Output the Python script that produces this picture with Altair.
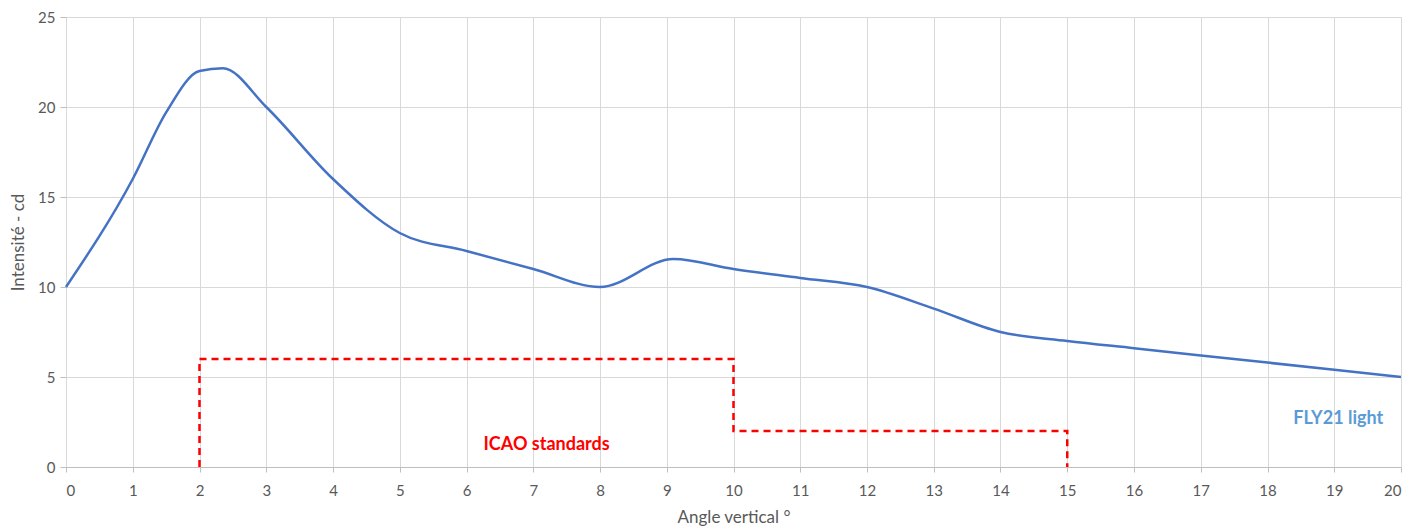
import altair as alt
import pandas as pd

# FLY21 light intensity curve
angles = [0, 1, 1.5, 2, 2.35, 3, 4, 5, 6, 7, 8, 9.1, 10, 11, 12, 13, 14, 15, 16, 17, 18, 19, 20]
intensity = [10, 16, 19.7, 22, 22.15, 20, 16, 13, 12, 11, 10, 11.55, 11, 10.5, 10, 8.8, 7.5, 7, 6.6, 6.2, 5.8, 5.4, 5]

# ICAO standard step line
icao_x = [2, 2, 10, 10, 15, 15]
icao_y = [0, 6, 6, 2, 2, 0]

# annotations
labels_text = ["ICAO standards", "FLY21 light"]
labels_x = [7.2, 19.06]
labels_y = [1.22, 2.65]
labels_color = ["#FF0000", "#5B9BD5"]

df = pd.DataFrame({"x": angles, "y": intensity})
df_icao = pd.DataFrame({"x": icao_x, "y": icao_y, "o": list(range(len(icao_x)))})
df_lab = pd.DataFrame({"x": labels_x, "y": labels_y, "t": labels_text, "c": labels_color})

FONT = "Lato"
GREY = "#595959"
W, H = 1335, 450

xscale = alt.Scale(domain=[0, 20], nice=False, zero=False)
yscale = alt.Scale(domain=[0, 25], nice=False)

xaxis = alt.Axis(
    title="Angle vertical °", values=list(range(0, 21)), format="d",
    grid=True, gridColor="#d9d9d9", domainColor="#bfbfbf", tickColor="#bfbfbf",
    tickSize=5, labelFontSize=15, labelColor=GREY, labelFont=FONT,
    labelPadding=11,
    titleFont=FONT, titleFontSize=17, titleColor=GREY, titleFontWeight="normal",
    titleX=W / 2, titleY=50, titleBaseline="middle", titleAlign="center",
)
yaxis = alt.Axis(
    title="Intensité - cd", values=[0, 5, 10, 15, 20, 25], format="d",
    grid=True, gridColor="#d9d9d9", domain=False, tickColor="#bfbfbf",
    tickSize=6, labelFontSize=15, labelColor=GREY, labelFont=FONT,
    labelPadding=5,
    titleFont=FONT, titleFontSize=17, titleColor=GREY, titleFontWeight="normal",
    titleX=-48, titleY=H / 2, titleBaseline="middle", titleAlign="center", titleAngle=-90,
)

curve = alt.Chart(df).mark_line(
    interpolate="monotone", color="#4472C4", strokeWidth=2.5
).encode(
    x=alt.X("x:Q", scale=xscale, axis=xaxis),
    y=alt.Y("y:Q", scale=yscale, axis=yaxis),
)

icao = alt.Chart(df_icao).mark_line(
    color="#FF0000", strokeWidth=2.5, strokeDash=[7, 5]
).encode(
    x=alt.X("x:Q", scale=xscale),
    y=alt.Y("y:Q", scale=yscale),
    order="o:Q",
)

labels = alt.Chart(df_lab).mark_text(
    font=FONT, fontSize=18, fontWeight="bold", align="center", baseline="middle"
).encode(
    x=alt.X("x:Q", scale=xscale),
    y=alt.Y("y:Q", scale=yscale),
    text="t:N",
    color=alt.Color("c:N", scale=None),
)

chart = alt.layer(curve, icao, labels).properties(
    width=W, height=H,
    autosize=alt.AutoSizeParams(type="none"),
    padding={"left": 58, "top": 9, "right": 17, "bottom": 62},
).configure_view(stroke=None).configure(background="white")

chart.save("out.html", embed_options={"renderer": "svg", "actions": False})
